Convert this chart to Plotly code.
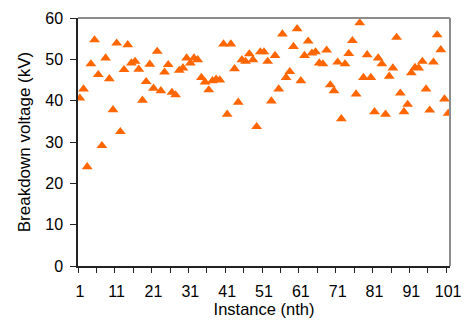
import plotly.graph_objects as go

instance = list(range(1, 102))
voltage = [
    40.6, 42.8, 24.0, 48.9, 54.7, 46.3, 29.1, 50.3, 45.3, 37.8,
    53.9, 32.5, 47.5, 53.5, 49.1, 49.5, 47.6, 40.1, 44.6, 48.8,
    43.0, 51.9, 42.4, 46.9, 48.7, 42.0, 41.4, 47.3, 47.9, 50.3,
    49.1, 50.3, 49.9, 45.6, 44.5, 42.6, 44.8, 45.2, 45.0, 53.7,
    36.7, 53.7, 47.7, 39.6, 49.9, 49.5, 51.3, 49.9, 33.7, 51.8,
    51.8, 49.5, 39.9, 50.9, 42.8, 56.1, 45.6, 47.0, 53.1, 57.4,
    44.8, 50.9, 54.4, 51.5, 51.8, 49.1, 48.9, 52.2, 43.8, 42.4,
    49.3, 35.6, 48.9, 51.4, 54.5, 41.6, 58.8, 45.6, 51.1, 45.6,
    37.3, 50.3, 48.9, 36.7, 45.9, 47.9, 55.3, 41.8, 37.3, 39.1,
    46.7, 48.0, 47.9, 49.5, 42.8, 37.7, 49.3, 55.9, 52.3, 40.4,
    36.9,
]
x_label_vals = list(range(1, 102, 10))
x_minor_ticks = [0.5 + 5 * k for k in range(21)]
y_ticks = list(range(0, 61, 10))

FONT = "Liberation Sans, Arial, sans-serif"

fig = go.Figure(
    go.Scatter(
        x=instance,
        y=voltage,
        mode="markers",
        marker=dict(symbol="triangle-up", size=9.5, color="#FF6600", line=dict(width=0)),
        showlegend=False,
    )
)

fig.update_layout(
    width=467,
    height=320,
    margin=dict(l=78, r=17, t=18, b=54, autoexpand=False),
    paper_bgcolor="white",
    plot_bgcolor="white",
    font=dict(family=FONT, size=16, color="black"),
    shapes=[
        dict(type="line", xref="paper", yref="paper", x0=0, x1=1, y0=1, y1=1,
             line=dict(color="#8c8c8c", width=2)),
        dict(type="line", xref="paper", yref="paper", x0=1, x1=1, y0=0, y1=1,
             line=dict(color="#8c8c8c", width=2)),
    ],
)

fig.update_xaxes(
    automargin=False,
    range=[0.5, 101.5],
    tickvals=x_label_vals,
    ticktext=[str(v) for v in x_label_vals],
    ticks="outside",
    ticklen=0,
    ticklabelstandoff=10,
    showgrid=False,
    zeroline=False,
    showline=True,
    linecolor="#222222",
    linewidth=1.5,
    tickfont=dict(size=16),
    minor=dict(tickvals=x_minor_ticks, ticks="outside", ticklen=5, tickcolor="#222222", tickwidth=1, showgrid=False),
    title=dict(text="Instance (nth)", font=dict(size=16.5), standoff=0),
)

fig.update_yaxes(
    automargin=False,
    range=[0, 60],
    tickvals=y_ticks,
    ticks="outside",
    ticklen=6,
    ticklabelstandoff=4,
    tickcolor="#222222",
    showgrid=False,
    zeroline=False,
    showline=True,
    linecolor="#222222",
    linewidth=1.5,
    tickfont=dict(size=16),
    title=dict(text="Breakdown voltage (kV)", font=dict(size=17), standoff=10),
)

fig.write_html("out.html")
